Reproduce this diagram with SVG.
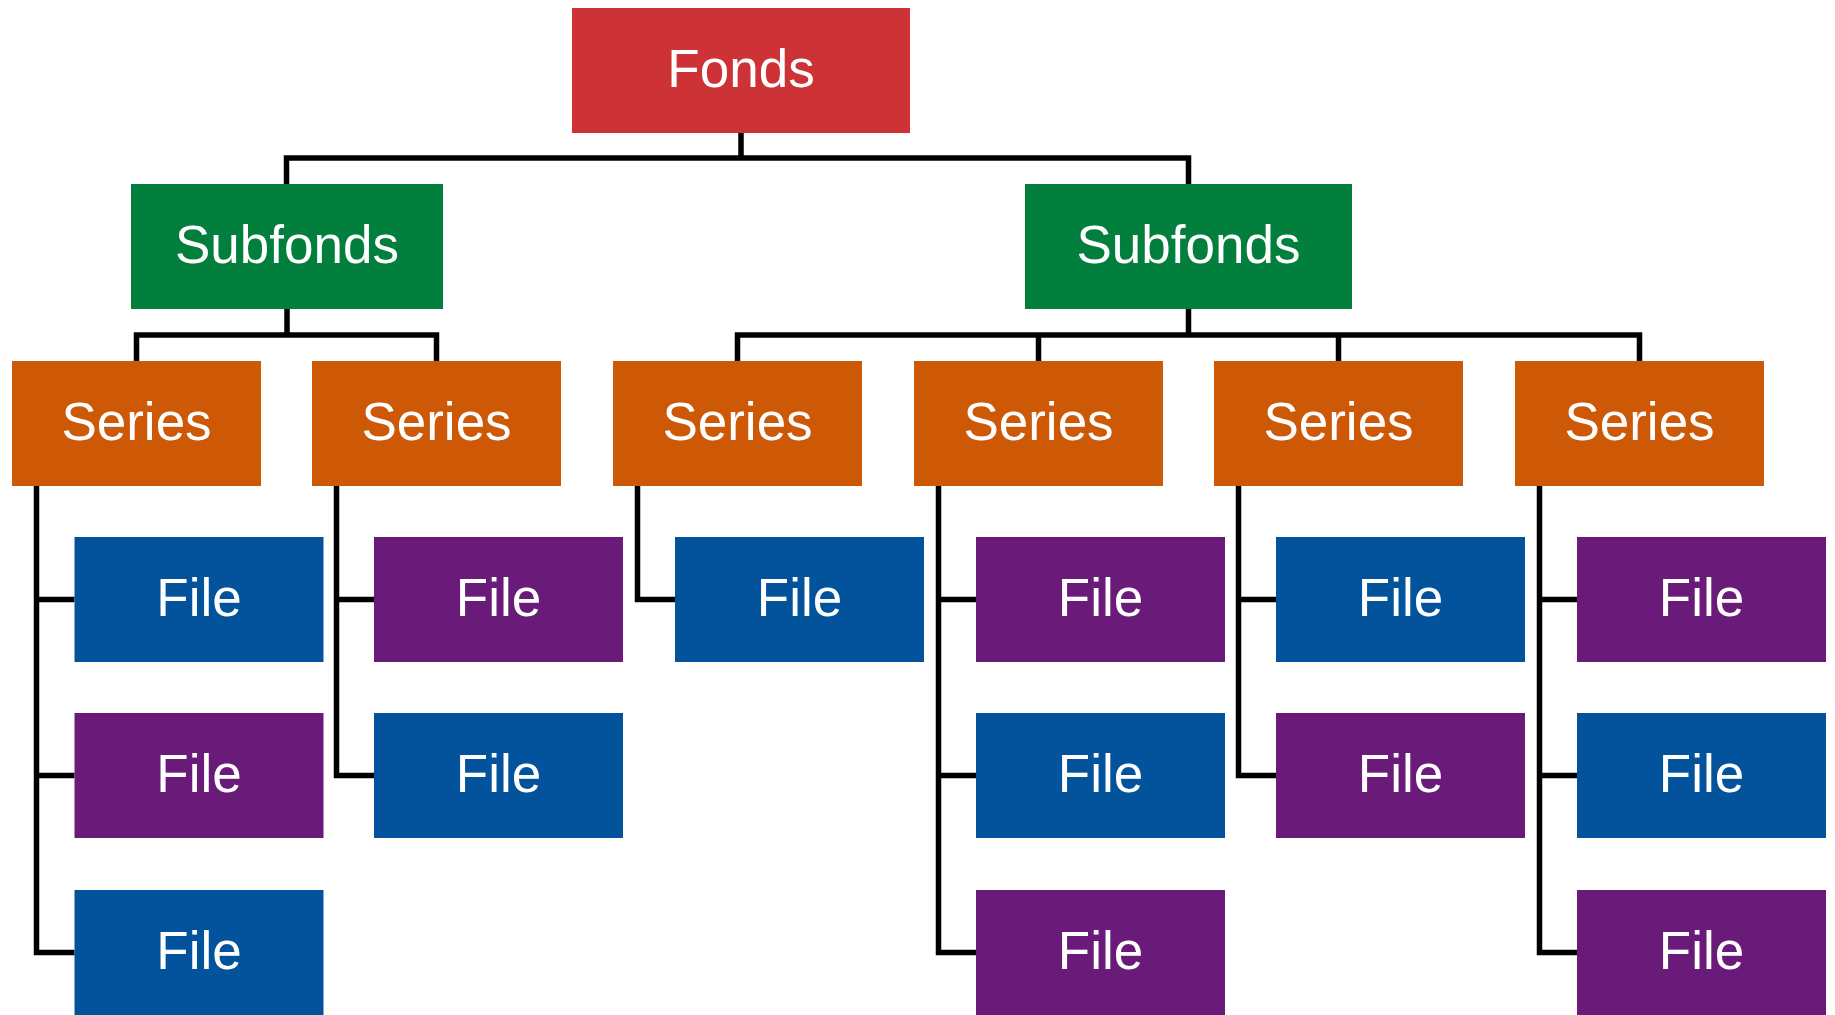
<svg xmlns="http://www.w3.org/2000/svg" width="1835" height="1015" viewBox="0 0 1835 1015">
<style>
.fonds{fill:#CD3336}
.sub{fill:#027F3C}
.ser{fill:#CD5906}
.blue{fill:#02539C}
.purp{fill:#6A1A79}
text{font-family:"Liberation Sans",Arial,sans-serif;font-size:53px;fill:#ffffff;text-anchor:middle}
.conn path{fill:none;stroke:#000000;stroke-width:5.5;stroke-linejoin:miter;stroke-linecap:butt}
</style>
<rect width="1835" height="1015" fill="#ffffff"/>
<g class="conn" id="connectors">
<path d="M741,133 V158"/>
<path d="M286.5,184 V158 H1188.5 V184"/>
<path d="M287,309 V335"/>
<path d="M136.5,361 V335 H436.5 V361"/>
<path d="M1188.5,309 V335"/>
<path d="M737.5,361 V335 H1639.5 V361"/>
<path d="M1038.5,335 V361"/>
<path d="M1338.5,335 V361"/>
<path d="M36.5,486 V952.5 H74.5 M36.5,599.5 H74.5 M36.5,775.5 H74.5"/>
<path d="M336.5,486 V775.5 H374 M336.5,599.5 H374"/>
<path d="M637.5,486 V599.5 H675"/>
<path d="M938.5,486 V952.5 H976 M938.5,599.5 H976 M938.5,775.5 H976"/>
<path d="M1238.5,486 V775.5 H1276 M1238.5,599.5 H1276"/>
<path d="M1539.5,486 V952.5 H1577 M1539.5,599.5 H1577 M1539.5,775.5 H1577"/>
</g>
<g id="fonds"><rect class="fonds" x="572" y="8" width="338" height="125"/><text x="741" y="87">Fonds</text></g>
<g id="subfonds1"><rect class="sub" x="131" y="184" width="312" height="125"/><text x="287" y="263">Subfonds</text></g>
<g id="subfonds2"><rect class="sub" x="1025" y="184" width="327" height="125"/><text x="1188.5" y="263">Subfonds</text></g>
<g id="series1"><rect class="ser" x="12" y="361" width="249" height="125"/><text x="136.5" y="440">Series</text></g>
<g id="series2"><rect class="ser" x="312" y="361" width="249" height="125"/><text x="436.5" y="440">Series</text></g>
<g id="series3"><rect class="ser" x="613" y="361" width="249" height="125"/><text x="737.5" y="440">Series</text></g>
<g id="series4"><rect class="ser" x="914" y="361" width="249" height="125"/><text x="1038.5" y="440">Series</text></g>
<g id="series5"><rect class="ser" x="1214" y="361" width="249" height="125"/><text x="1338.5" y="440">Series</text></g>
<g id="series6"><rect class="ser" x="1515" y="361" width="249" height="125"/><text x="1639.5" y="440">Series</text></g>
<g id="file1a"><rect class="blue" x="74.5" y="537" width="249" height="125"/><text x="199" y="616">File</text></g>
<g id="file1b"><rect class="purp" x="74.5" y="713" width="249" height="125"/><text x="199" y="792">File</text></g>
<g id="file1c"><rect class="blue" x="74.5" y="890" width="249" height="125"/><text x="199" y="969">File</text></g>
<g id="file2a"><rect class="purp" x="374" y="537" width="249" height="125"/><text x="498.5" y="616">File</text></g>
<g id="file2b"><rect class="blue" x="374" y="713" width="249" height="125"/><text x="498.5" y="792">File</text></g>
<g id="file3a"><rect class="blue" x="675" y="537" width="249" height="125"/><text x="799.5" y="616">File</text></g>
<g id="file4a"><rect class="purp" x="976" y="537" width="249" height="125"/><text x="1100.5" y="616">File</text></g>
<g id="file4b"><rect class="blue" x="976" y="713" width="249" height="125"/><text x="1100.5" y="792">File</text></g>
<g id="file4c"><rect class="purp" x="976" y="890" width="249" height="125"/><text x="1100.5" y="969">File</text></g>
<g id="file5a"><rect class="blue" x="1276" y="537" width="249" height="125"/><text x="1400.5" y="616">File</text></g>
<g id="file5b"><rect class="purp" x="1276" y="713" width="249" height="125"/><text x="1400.5" y="792">File</text></g>
<g id="file6a"><rect class="purp" x="1577" y="537" width="249" height="125"/><text x="1701.5" y="616">File</text></g>
<g id="file6b"><rect class="blue" x="1577" y="713" width="249" height="125"/><text x="1701.5" y="792">File</text></g>
<g id="file6c"><rect class="purp" x="1577" y="890" width="249" height="125"/><text x="1701.5" y="969">File</text></g>
</svg>
